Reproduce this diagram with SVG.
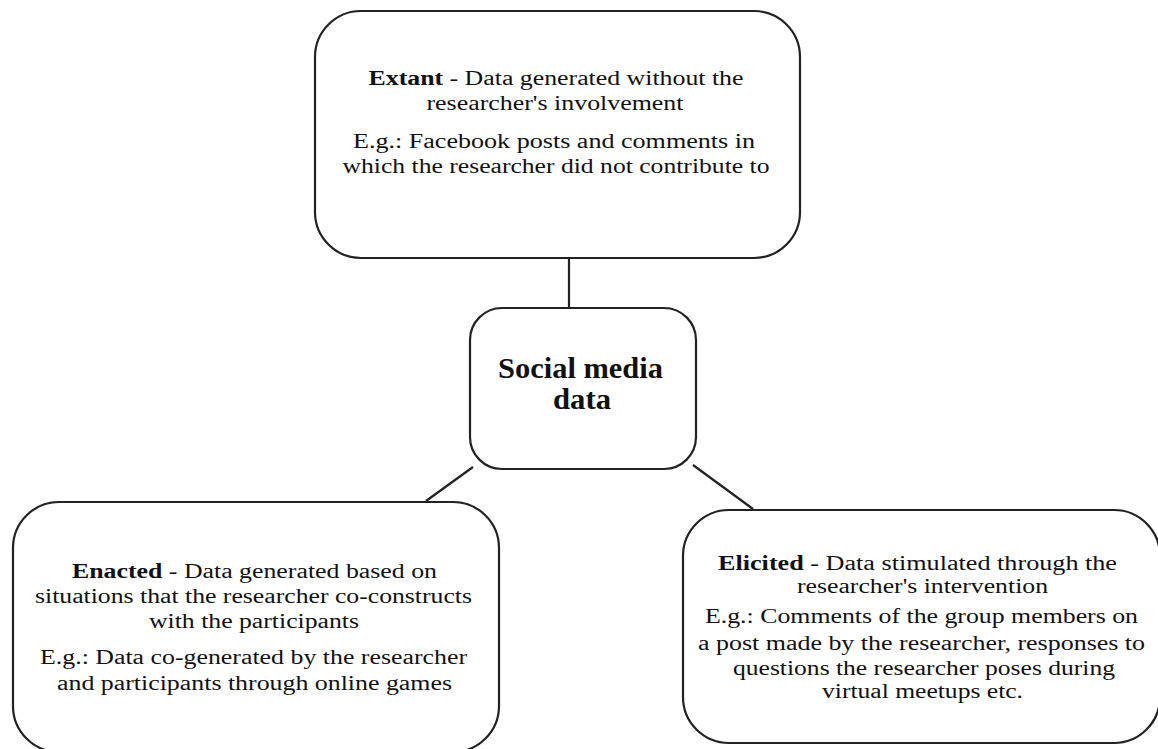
<svg xmlns="http://www.w3.org/2000/svg" width="1158" height="749" viewBox="0 0 1158 749">
<style>
.box{fill:#fff;stroke:#222;stroke-width:2.2}
.con{stroke:#222;stroke-width:2.2;fill:none}
text{font-family:'Liberation Serif',Tinos,'Times New Roman',Times,serif}
.t{font-size:20.5px;fill:#111;text-anchor:middle}
.b{font-weight:bold}
.c{font-size:29px;font-weight:bold;fill:#111;text-anchor:middle}
</style>
<rect width="1158" height="749" fill="#fff"/>
<g id="connectors">
<line class="con" x1="569" y1="258" x2="569" y2="309"/>
<line class="con" x1="473" y1="467" x2="426" y2="501"/>
<line class="con" x1="693" y1="465" x2="753" y2="509"/>
</g>
<g id="extant">
<rect class="box" x="315" y="11" width="485" height="247" rx="46" ry="46"/>
<text class="t" x="556" y="85" textLength="375" lengthAdjust="spacingAndGlyphs"><tspan class="b">Extant</tspan> - Data generated without the</text>
<text class="t" x="555" y="110" textLength="257" lengthAdjust="spacingAndGlyphs">researcher's involvement</text>
<text class="t" x="554" y="148" textLength="402" lengthAdjust="spacingAndGlyphs">E.g.: Facebook posts and comments in</text>
<text class="t" x="556" y="173" textLength="427" lengthAdjust="spacingAndGlyphs">which the researcher did not contribute to</text>
</g>
<g id="social">
<rect class="box" x="470" y="308" width="226" height="161" rx="32" ry="32"/>
<text class="c" x="580.5" y="378" textLength="165" lengthAdjust="spacingAndGlyphs">Social media</text>
<text class="c" x="582" y="409" textLength="58" lengthAdjust="spacingAndGlyphs">data</text>
</g>
<g id="enacted">
<rect class="box" x="13" y="502" width="486" height="250" rx="46" ry="46"/>
<text class="t" x="254.5" y="578" textLength="365" lengthAdjust="spacingAndGlyphs"><tspan class="b">Enacted</tspan> - Data generated based on</text>
<text class="t" x="253.5" y="603" textLength="437" lengthAdjust="spacingAndGlyphs">situations that the researcher co-constructs</text>
<text class="t" x="254" y="628" textLength="210" lengthAdjust="spacingAndGlyphs">with the participants</text>
<text class="t" x="253.5" y="664" textLength="427" lengthAdjust="spacingAndGlyphs">E.g.: Data co-generated by the researcher</text>
<text class="t" x="254.5" y="690" textLength="395" lengthAdjust="spacingAndGlyphs">and participants through online games</text>
</g>
<g id="elicited">
<rect class="box" x="683" y="510" width="477" height="233" rx="46" ry="46"/>
<text class="t" x="917.5" y="570" textLength="399" lengthAdjust="spacingAndGlyphs"><tspan class="b">Elicited</tspan> - Data stimulated through the</text>
<text class="t" x="922.5" y="593" textLength="251" lengthAdjust="spacingAndGlyphs">researcher's intervention</text>
<text class="t" x="921.5" y="623" textLength="433" lengthAdjust="spacingAndGlyphs">E.g.: Comments of the group members on</text>
<text class="t" x="921.5" y="650" textLength="447" lengthAdjust="spacingAndGlyphs">a post made by the researcher, responses to</text>
<text class="t" x="924" y="675" textLength="382" lengthAdjust="spacingAndGlyphs">questions the researcher poses during</text>
<text class="t" x="922.5" y="698" textLength="201" lengthAdjust="spacingAndGlyphs">virtual meetups etc.</text>
</g>
</svg>
